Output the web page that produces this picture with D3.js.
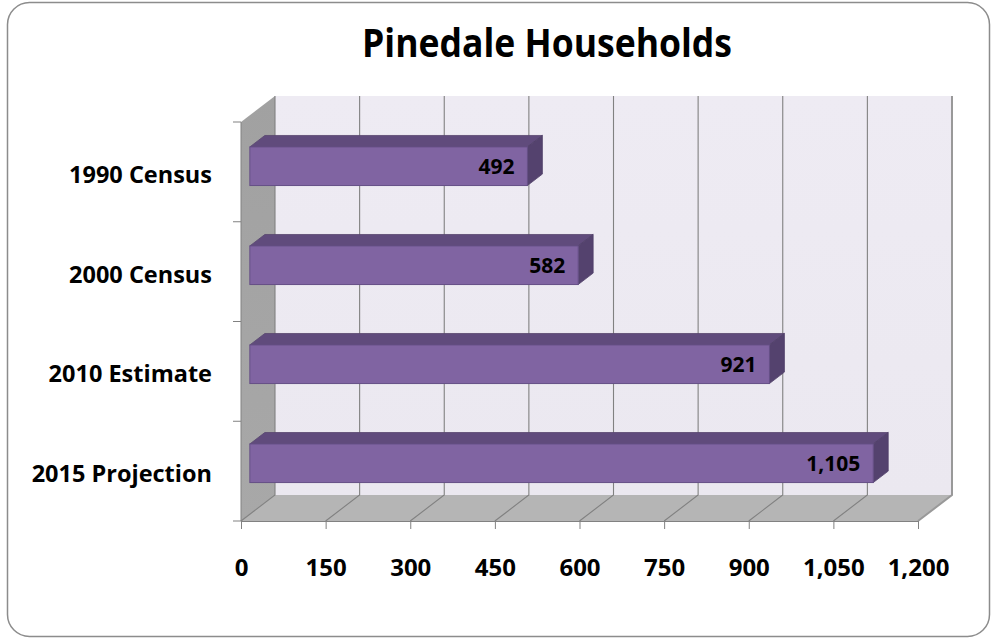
<!DOCTYPE html>
<html>
<head>
<meta charset="utf-8">
<script src="https://cdn.jsdelivr.net/npm/d3@7"></script>
<style>
  html, body { margin: 0; padding: 0; background: #fff; }
  svg { display: block; font-family: "Open Sans", "DejaVu Sans", sans-serif; }
</style>
</head>
<body>
<svg id="chart" width="997" height="640"></svg>
<script>
// Households by source year
const categories = ["1990 Census", "2000 Census", "2010 Estimate", "2015 Projection"];
const households = [492, 582, 921, 1105];
const tickValues = [0, 150, 300, 450, 600, 750, 900, 1050, 1200];
const title = "Pinedale Households";

const svg = d3.select("#chart");

// chart frame
svg.append("rect")
  .attr("x", 7.5).attr("y", 2.5)
  .attr("width", 982).attr("height", 634)
  .attr("rx", 22).attr("ry", 22)
  .attr("fill", "#fff")
  .attr("stroke", "#8c8c8c")
  .attr("stroke-width", 1.5);

// front plane of the 3D plot box
const frontTop = 122, frontBottom = 521;
const x = d3.scaleLinear().domain([0, 1200]).range([241, 918]);
const DX = 34, DY = -26;            // depth of the box
const barFront = 0.26, barDepth = 0.44; // bar slab position within the depth

const yAxisBand = d3.scaleBand().domain(categories).range([frontTop, frontBottom]).padding(0);
const yBar = d3.scaleBand().domain(categories).range([frontTop, frontBottom])
  .paddingInner(0.61).paddingOuter(0.32);

const x0 = x(0), x1 = x(1200);

const defs = svg.append("defs");
const lw = defs.append("linearGradient").attr("id", "leftWall").attr("x1", 0).attr("y1", 0).attr("x2", 0).attr("y2", 1);
lw.append("stop").attr("offset", 0).attr("stop-color", "#a1a1a1");
lw.append("stop").attr("offset", 1).attr("stop-color", "#a8a8a8");
const bw = defs.append("linearGradient").attr("id", "backWall").attr("x1", 0).attr("y1", 0).attr("x2", 0).attr("y2", 1);
bw.append("stop").attr("offset", 0).attr("stop-color", "#eeebf3");
bw.append("stop").attr("offset", 1).attr("stop-color", "#ebe8f0");

const poly = pts => pts.map(p => p.join(",")).join(" ");

// back wall
svg.append("polygon")
  .attr("points", poly([[x0 + DX, frontTop + DY], [x1 + DX, frontTop + DY], [x1 + DX, frontBottom + DY], [x0 + DX, frontBottom + DY]]))
  .attr("fill", "url(#backWall)");

// left side wall
svg.append("polygon")
  .attr("points", poly([[x0, frontTop], [x0 + DX, frontTop + DY], [x0 + DX, frontBottom + DY], [x0, frontBottom]]))
  .attr("fill", "url(#leftWall)");

// floor
svg.append("polygon")
  .attr("points", poly([[x0, frontBottom], [x1, frontBottom], [x1 + DX, frontBottom + DY], [x0 + DX, frontBottom + DY]]))
  .attr("fill", "#b5b5b5");

// gridlines running across the floor and up the back wall
svg.append("g").selectAll("polyline")
  .data(tickValues)
  .join("polyline")
  .attr("points", d => poly([[x(d), frontBottom], [x(d) + DX, frontBottom + DY], [x(d) + DX, frontTop + DY]]))
  .attr("fill", "none")
  .attr("stroke", d => d === 1200 ? "#999" : "#818181")
  .attr("stroke-width", d => d === 1200 ? 2 : 1.1);

// bottom axis
const xAxis = svg.append("g")
  .attr("transform", `translate(0,${frontBottom})`)
  .call(d3.axisBottom(x).tickValues(tickValues).tickSize(8).tickSizeOuter(0)
    .tickFormat(d3.format(",")));
xAxis.select(".domain").attr("stroke", "#818181");
xAxis.selectAll(".tick line").attr("stroke", "#818181");
xAxis.selectAll(".tick text")
  .attr("y", 55)
  .attr("dy", 0)
  .attr("fill", "#000")
  .attr("font-size", 24)
  .attr("font-weight", 700)
  .attr("font-family", "'Open Sans', sans-serif");

// left axis: line on the front edge with ticks at the category boundaries
const yAxis = svg.append("g");
yAxis.append("line")
  .attr("x1", x0).attr("x2", x0)
  .attr("y1", frontTop).attr("y2", frontBottom)
  .attr("stroke", "#818181");
yAxis.selectAll("line.tick")
  .data(d3.range(categories.length + 1))
  .join("line")
  .attr("class", "tick")
  .attr("x1", x0 - 8).attr("x2", x0)
  .attr("y1", i => frontTop + i * yAxisBand.step())
  .attr("y2", i => frontTop + i * yAxisBand.step())
  .attr("stroke", "#818181");
yAxis.selectAll("text")
  .data(categories)
  .join("text")
  .attr("x", 212)
  .attr("y", d => yAxisBand(d) + yAxisBand.bandwidth() / 2 + 11)
  .attr("text-anchor", "end")
  .attr("font-size", 23.5)
  .attr("font-weight", 700)
  .attr("fill", "#000")
  .text(d => d);

// 3D bars
const fdx = DX * barFront, fdy = DY * barFront;
const bdx = DX * barDepth, bdy = DY * barDepth;
const rows = categories.map((c, i) => ({ cat: c, value: households[i] }));

const bars = svg.append("g").selectAll("g").data(rows).join("g");
bars.each(function (d) {
  const g = d3.select(this);
  const xa = x(0) + fdx, xb = x(d.value) + fdx;
  const yt = yBar(d.cat) + fdy, h = yBar.bandwidth();
  // top face
  g.append("polygon")
    .attr("points", poly([[xa, yt], [xb, yt], [xb + bdx, yt + bdy], [xa + bdx, yt + bdy]]))
    .attr("fill", "#604b7c").attr("stroke", "#58466f").attr("stroke-width", 0.8);
  // end face
  g.append("polygon")
    .attr("points", poly([[xb, yt], [xb + bdx, yt + bdy], [xb + bdx, yt + h + bdy], [xb, yt + h]]))
    .attr("fill", "#54426e").attr("stroke", "#4f3f68").attr("stroke-width", 0.8);
  // front face
  g.append("rect")
    .attr("x", xa).attr("y", yt)
    .attr("width", xb - xa).attr("height", h)
    .attr("fill", "#8064a2").attr("stroke", "#654f86").attr("stroke-width", 1);
  // value label
  g.append("text")
    .attr("x", xb - 13)
    .attr("y", yt + h / 2 + 8)
    .attr("text-anchor", "end")
    .attr("font-size", 21)
    .attr("font-weight", 700)
    .attr("fill", "#000")
    .text(d3.format(",")(d.value));
});

// title
svg.append("text")
  .attr("x", 547).attr("y", 57)
  .attr("text-anchor", "middle")
  .attr("font-size", 39)
  .attr("font-weight", 700)
  .attr("fill", "#000")
  .attr("textLength", 370)
  .attr("lengthAdjust", "spacingAndGlyphs")
  .text(title);
</script>
</body>
</html>
